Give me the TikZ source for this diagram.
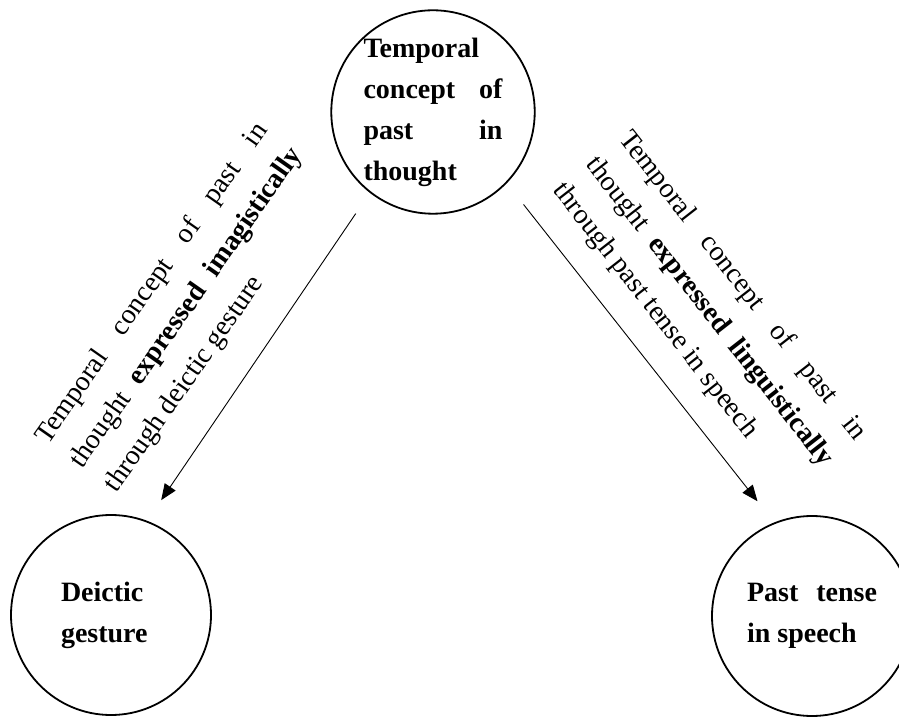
\documentclass[tikz,border=0pt]{standalone}
\usepackage{fontspec}
\setmainfont{Liberation Serif}
\usetikzlibrary{arrows.meta, positioning, calc}
\hyphenpenalty=10000

\begin{document}
\begin{tikzpicture}[x=1pt, y=1pt,
  stage/.style={draw, circle, line width=1.8pt, minimum size=200pt, inner sep=0pt,
    font=\fontsize{28pt}{41pt}\selectfont\bfseries},
  link/.style={line width=0.9pt, -{Triangle[length=16pt,width=13pt]}},
  linklabel/.style={text width=384pt, align=justify, inner sep=0pt,
    font=\fontsize{28pt}{42pt}\selectfont}]
  \useasboundingbox (0,0) rectangle (899,718);

  % the three circles
  \node[stage, text width=139pt, align=justify] (thought) at (433,606)
    {Temporal\linebreak concept of\linebreak past in\linebreak thought};
  \node[stage, text width=100pt, align=left] (gesture) at (111,103) {Deictic gesture};
  \node[stage, text width=130pt, align=justify] (speech) at (812,102) {Past tense\linebreak in speech};

  % arrows
  \draw[link, shorten <=25pt, shorten >=25pt] (thought.232) -- (gesture.69);
  \draw[link, shorten <=27pt, shorten >=27pt] (thought.316) -- (speech.112);

  % their labels
  \node[linklabel, rotate=55] (imagistic) at (187,410)
    {Temporal concept of past in\linebreak thought \textbf{expressed imagistically}\linebreak through deictic gesture};
  \node[linklabel, rotate=-52] (linguistic) at (709,406)
    {Temporal concept of past in\linebreak thought \textbf{expressed linguistically}\linebreak through past tense in speech};
\end{tikzpicture}
\end{document}
